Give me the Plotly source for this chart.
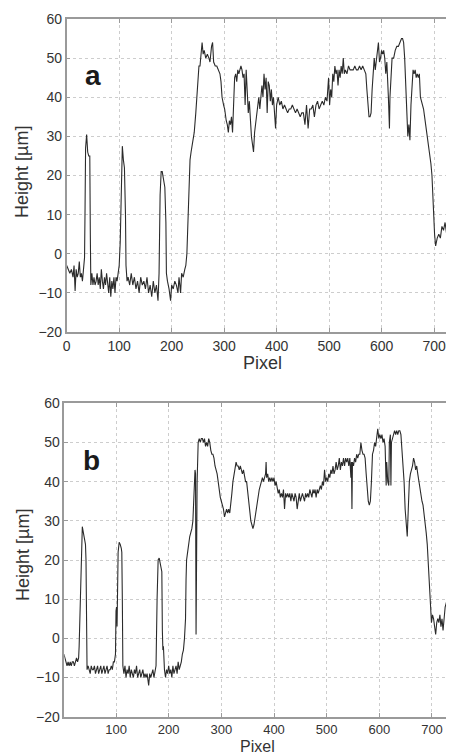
import plotly.graph_objects as go

# ---------------- data: panel a ----------------
pixel_a = [
    0, 3, 6, 9, 12, 14, 16, 18, 20, 22,
    24, 26, 28, 30, 32, 34, 35, 36, 38, 40,
    42, 44, 45, 46, 48, 50, 52, 54, 56, 58,
    60, 62, 64, 66, 68, 70, 72, 74, 76, 78,
    80, 82, 84, 86, 88, 90, 92, 94, 96, 98,
    100, 102, 104, 106, 108, 110, 112, 113, 115, 117,
    120, 123, 126, 129, 132, 135, 138, 141, 144, 147,
    150, 153, 156, 159, 162, 165, 168, 171, 174, 176,
    178, 180, 182, 185, 187, 189, 190, 192, 195, 198,
    200, 203, 206, 209, 212, 214, 217, 219, 222, 225,
    227, 229, 231, 233, 235, 237, 240, 243, 246, 249,
    252, 254, 256, 258, 260, 262, 265, 268, 271, 273,
    276, 278, 280, 283, 286, 289, 292, 294, 296, 299,
    301, 304, 306, 308, 310, 312, 314, 316, 318, 320,
    322, 324, 326, 328, 330, 332, 334, 336, 338, 340,
    342, 344, 346, 348, 350, 352, 354, 356, 358, 360,
    362, 364, 366, 368, 370, 372, 374, 376, 378, 380,
    382, 384, 386, 388, 390, 392, 394, 396, 398, 400,
    403, 406, 409, 412, 415, 418, 421, 424, 427, 430,
    433, 436, 439, 442, 445, 448, 451, 454, 457, 460,
    463, 466, 469, 472, 475, 478, 481, 484, 487, 490,
    493, 496, 499, 501, 503, 505, 507, 509, 511, 513,
    515, 517, 519, 521, 523, 525, 527, 529, 531, 534,
    537, 540, 543, 546, 549, 552, 555, 558, 561, 564,
    567, 570, 572, 574, 576, 578, 580, 582, 584, 586,
    588, 590, 592, 594, 596, 598, 600, 602, 604, 606,
    608, 610, 613, 615, 616, 618, 620, 623, 626, 629,
    632, 635, 638, 640, 642, 644, 646, 648, 650, 652,
    654, 656, 658, 660, 662, 664, 666, 668, 670, 672,
    674, 676, 678, 680, 682, 684, 686, 688, 690, 692,
    694, 696, 698, 699, 701, 703, 706, 709, 712, 715,
    718, 721, 724, 727, 730, 733, 735, 737, 739,
]
height_a = [
    -3, -4, -5, -4, -6, -3, -9.5, -4, -6, -5,
    -2, -6, -5, -7, -3, -1, 12, 27, 30.5, 26,
    25, 25, 5, -8, -5, -8, -6, -8, -7, -5,
    -8, -6, -9, -4, -7, -9, -6, -8, -5, -8,
    -10, -6, -11, -7, -9, -6, -10, -6, -7, -5,
    -3, 3, 20, 27.5, 24, 22, 10, -3, -7, -6,
    -8, -5, -8, -6, -9, -7, -10, -6, -8, -7,
    -9, -6, -10, -8, -11, -7, -10, -8, -12, -5,
    15, 21, 21, 19, 17, 8, -5, -7, -9, -12,
    -8, -9, -7, -8, -10, -6, -10, -5, -6, -4,
    -3, 0, 10, 20, 24, 26, 29, 31, 36, 42,
    48, 48, 52, 54, 51, 52, 50, 51, 50, 49,
    53, 54, 49, 48, 48, 47, 46, 44, 40, 38,
    37, 34, 33, 31, 34, 33, 35, 31, 39, 45,
    46, 44, 47, 46, 47, 48, 47, 45, 46, 38,
    47, 40, 36, 39, 33, 30, 28, 26, 31, 33,
    36, 38, 40, 37, 41, 43, 40, 46, 42, 45,
    36, 44, 43, 39, 42, 38, 40, 34, 32, 38,
    40, 38, 39, 37, 38, 37, 36, 37, 37, 38,
    37, 36, 37, 36, 35, 36, 36, 33, 38, 32,
    37, 37, 38, 35, 38, 39, 37, 38, 39, 38,
    40, 39, 45, 38, 42, 40, 46, 44, 48, 46,
    47, 43, 47, 45, 48, 46, 50, 46, 47, 46,
    48, 47, 47, 47, 48, 47, 47, 48, 47, 48,
    47, 46, 42, 38, 35, 35, 36, 42, 48, 50,
    47, 49, 52, 54, 49, 50, 52, 51, 52, 50,
    46, 49, 40, 32, 40, 47, 50, 50, 52, 53,
    53, 54, 55, 55, 54, 50, 42, 35, 30, 33,
    29, 38, 43, 47, 46, 47, 45, 46, 45, 46,
    40, 39, 38, 37, 35, 33, 32, 30, 27, 25,
    23, 20, 12, 8, 5, 2, 4, 5, 4, 7,
    6, 8, 5, 9, 7, 12, 15, 12, 14,
]

# ---------------- data: panel b ----------------
pixel_b = [
    1, 3, 5, 7, 9, 11, 13, 15, 17, 19,
    21, 23, 25, 27, 29, 30, 32, 34, 36, 38,
    40, 42, 43, 44, 45, 47, 49, 51, 53, 55,
    57, 59, 61, 63, 65, 67, 69, 71, 73, 75,
    77, 79, 81, 83, 85, 87, 89, 91, 93, 95,
    97, 99, 100, 101, 102, 103, 104, 106, 108, 110,
    111, 112, 113, 115, 117, 119, 121, 123, 125, 127,
    129, 131, 133, 135, 137, 139, 141, 143, 145, 147,
    149, 151, 153, 155, 157, 159, 161, 162, 164, 166,
    168, 170, 172, 174, 176, 178, 180, 182, 184, 186,
    187, 188, 189, 190, 192, 194, 196, 198, 200, 202,
    204, 206, 208, 210, 212, 214, 216, 218, 220, 222,
    224, 226, 228, 230, 232, 233, 234, 236, 238, 240,
    242, 244, 246, 248, 249, 250, 251, 252, 253, 254,
    256, 258, 260, 262, 264, 266, 268, 270, 272, 274,
    276, 278, 280, 282, 284, 286, 288, 290, 292, 294,
    296, 298, 300, 302, 304, 306, 308, 310, 312, 314,
    316, 318, 320, 322, 324, 326, 328, 330, 332, 334,
    336, 338, 340, 342, 344, 346, 348, 350, 352, 354,
    356, 358, 360, 362, 364, 366, 368, 370, 372, 374,
    376, 378, 380, 382, 384, 385, 386, 388, 390, 392,
    394, 396, 398, 400, 402, 404, 406, 408, 410, 412,
    414, 416, 418, 420, 422, 424, 426, 428, 430, 432,
    434, 436, 438, 440, 442, 444, 446, 448, 450, 452,
    454, 456, 458, 460, 462, 464, 466, 468, 470, 472,
    474, 476, 478, 480, 482, 484, 486, 488, 490, 492,
    494, 496, 498, 500, 502, 504, 506, 508, 510, 512,
    514, 516, 518, 520, 522, 524, 526, 528, 530, 532,
    534, 536, 538, 540, 542, 544, 546, 547, 548, 549,
    551, 553, 555, 557, 559, 561, 563, 565, 567, 569,
    571, 573, 575, 577, 579, 581, 583, 585, 587, 589,
    591, 593, 595, 597, 599, 601, 603, 605, 607, 609,
    611, 612, 613, 614, 616, 618, 619, 621, 622, 623,
    625, 627, 629, 631, 633, 635, 637, 639, 641, 643,
    645, 647, 649, 651, 653, 655, 657, 659, 661, 663,
    665, 667, 669, 671, 673, 675, 677, 679, 681, 683,
    685, 687, 689, 691, 693, 695, 697, 699, 701, 703,
    705, 707, 709, 711, 713, 715, 717, 719, 721, 723,
    725, 727, 729, 731, 733, 735, 737, 739, 741,
]
height_b = [
    -4, -5, -6, -7, -6, -7, -6, -7, -6, -6,
    -7, -6, -5, -6, -5, -2, 10, 22, 28.5, 27,
    25, 24, 20, 10, -8, -7, -8, -9, -7, -8,
    -8, -7, -9, -8, -7, -9, -8, -7, -9, -8,
    -7, -9, -8, -7, -9, -8, -8, -7, -8, -6,
    -6, -4, 7, 8, 3, 10, 22, 24.5, 24, 23,
    22, 10, -7, -9, -7, -10, -8, -9, -7, -10,
    -8, -9, -10, -8, -9, -7, -10, -9, -8, -10,
    -9, -8, -10, -9, -10, -9, -11, -12, -9, -10,
    -9, -8, -10, -8, -7, 10, 20, 20.5, 19, 18,
    17, 2, -3, -2, -8, -10, -8, -9, -7, -9,
    -8, -10, -7, -9, -8, -7, -9, -6, -8, -7,
    -6, -4, -3, 0, 5, 15, 20, 22, 25, 26,
    27, 28, 30, 35, 40, 43, 42, 1, 20, 40,
    50, 51, 50, 51, 51, 50, 51, 49, 50, 49,
    51, 50, 48, 47, 47, 46, 44, 43, 42, 40,
    37, 36, 35, 34, 33, 31, 32, 33, 32, 33,
    32, 34, 37, 40, 42, 44, 45, 44, 44, 43,
    44, 43, 42, 43, 41, 40, 40, 37, 35, 32,
    30, 29, 28, 29, 31, 33, 35, 36, 38, 39,
    40, 41, 40, 41, 42, 45, 41, 42, 40, 41,
    40, 41, 40, 41, 39, 40, 38, 37, 38, 36,
    37, 36, 38, 33, 37, 36, 37, 36, 37, 35,
    37, 36, 35, 37, 36, 33, 36, 37, 35, 36,
    37, 36, 35, 37, 36, 37, 36, 38, 37, 36,
    38, 37, 38, 36, 38, 37, 38, 39, 38, 40,
    39, 43, 40, 41, 40, 42, 41, 43, 42, 44,
    42, 43, 45, 43, 44, 46, 43, 45, 44, 46,
    44, 46, 45, 46, 44, 46, 41, 45, 33, 45,
    44, 46, 45, 47, 46, 47, 47, 50, 48, 47,
    47, 46, 42, 38, 35, 34, 35, 40, 47, 48,
    50, 49, 51, 53.5, 51, 52, 51, 52, 50, 51,
    49, 45, 39, 45, 40, 39, 50, 52, 39, 50,
    51, 52, 53, 52, 53, 52, 53, 53, 52, 48,
    44, 40, 33, 30, 26, 33, 40, 42, 43, 44,
    46, 45, 43, 44, 42, 40, 39, 37, 35, 34,
    32, 30, 27, 24, 18, 12, 8, 4, 6, 5,
    3, 1, 4, 5, 4, 6, 3, 5, 2, 6,
    8, 9, 10, 11, 12, 10, 13, 14, 13,
]

x_ticks = [0, 100, 200, 300, 400, 500, 600, 700]
y_ticks = [-20, -10, 0, 10, 20, 30, 40, 50, 60]
x_title = "Pixel"
y_title = "Height [µm]"
panel_labels = ["a", "b"]

# page body has an 8px default margin: build the figure in window pixels minus 8
OFF = 8
W, H = 454 - OFF, 756 - OFF
LINE = "#2b2b2b"
AXIS = "#9a9a9a"
FONT = "Liberation Sans, Arial, sans-serif"
TXT = "#333333"


def px(p):
    return (p - OFF) / W


def py(p):
    return 1 - (p - OFF) / H


fig = go.Figure()
fig.add_trace(go.Scatter(x=pixel_a, y=height_a, mode="lines",
                         line=dict(color=LINE, width=1.1),
                         xaxis="x", yaxis="y", showlegend=False))
fig.add_trace(go.Scatter(x=pixel_b, y=height_b, mode="lines",
                         line=dict(color=LINE, width=1.1),
                         xaxis="x2", yaxis="y2", showlegend=False))

common_x = dict(tickvals=x_ticks, showgrid=True, gridcolor="#cdcdcd",
                griddash="dot", gridwidth=1, zeroline=False, automargin=False,
                showline=True, linecolor=AXIS, linewidth=1.5, mirror="ticks",
                ticks="inside", ticklen=4, tickcolor=AXIS)
common_y = dict(tickvals=y_ticks, range=[-20, 60], showgrid=True,
                gridcolor="#cdcdcd", griddash="dot", gridwidth=1,
                zeroline=False, automargin=False, showline=True,
                linecolor=AXIS, linewidth=1.5,
                ticks="inside", ticklen=4, tickcolor=AXIS,
                tickfont=dict(family=FONT, size=14, color=TXT))

fig.update_layout(
    width=W, height=H,
    margin=dict(l=0, r=0, t=0, b=0, autoexpand=False),
    paper_bgcolor="white", plot_bgcolor="white",
    xaxis=dict(domain=[px(66.7), 1], range=[0, 738], anchor="y",
               tickfont=dict(family=FONT, size=14, color=TXT), **common_x),
    yaxis=dict(domain=[py(332), py(19)], anchor="x", **common_y),
    xaxis2=dict(domain=[px(64.3), 1], range=[1.8, 741.8], anchor="y2",
                tickfont=dict(family=FONT, size=13, color=TXT), **common_x),
    yaxis2=dict(domain=[py(716.7), py(403.3)], anchor="x2", **common_y),
)

annots = [
    dict(text=x_title, x=262, y=363, size=18, angle=0, bold=False),
    dict(text=x_title, x=258, y=746, size=16, angle=0, bold=False),
    dict(text=y_title, x=22, y=172, size=18, angle=-90, bold=False),
    dict(text=y_title, x=23, y=555, size=18, angle=-90, bold=False),
    dict(text=panel_labels[0], x=93, y=75, size=28, angle=0, bold=True),
    dict(text=panel_labels[1], x=91, y=460, size=28, angle=0, bold=True),
]
for a in annots:
    fig.add_annotation(
        text=("<b>%s</b>" % a["text"]) if a["bold"] else a["text"],
        x=px(a["x"]), y=py(a["y"]), xref="paper", yref="paper",
        xanchor="center", yanchor="middle", showarrow=False,
        textangle=a["angle"],
        font=dict(family=FONT, size=a["size"],
                  color="#1a1a1a" if a["bold"] else TXT),
    )

fig.write_html("out.html")
